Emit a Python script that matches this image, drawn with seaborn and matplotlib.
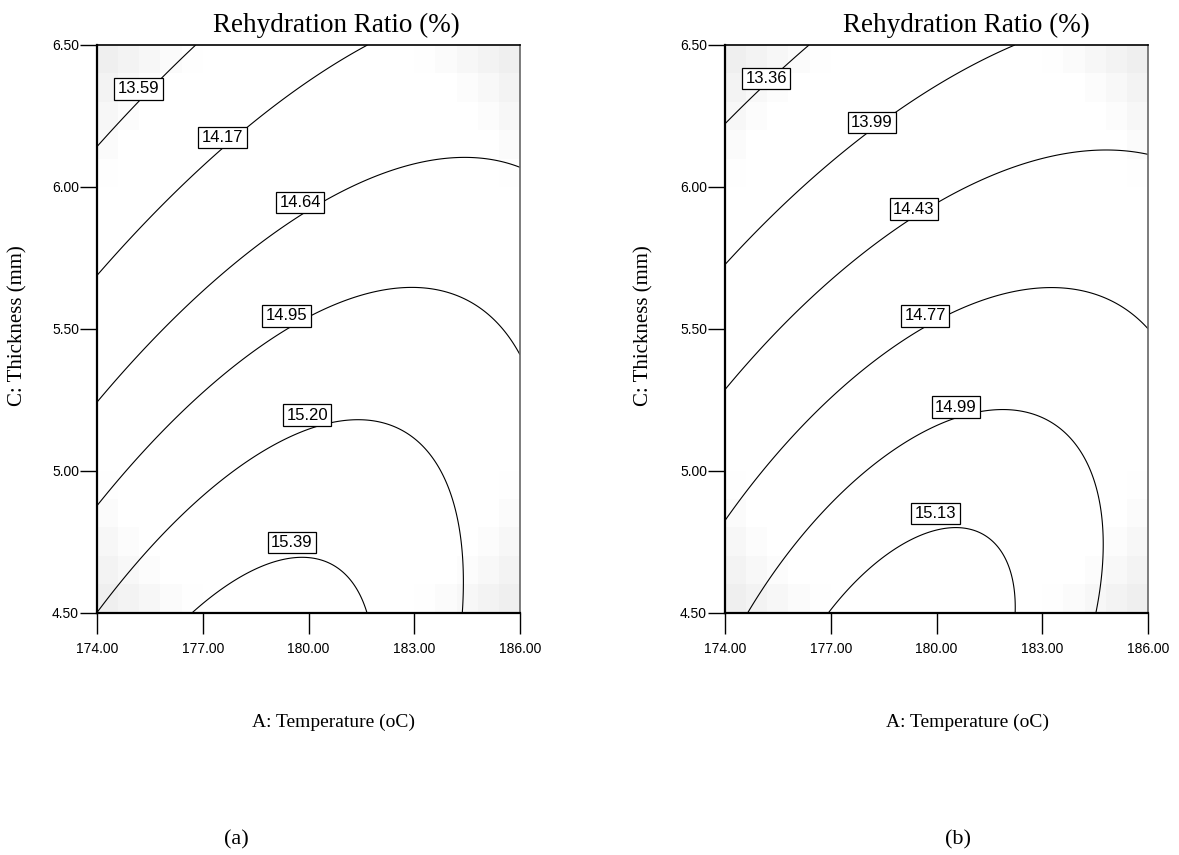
import numpy as np
import matplotlib
matplotlib.use("Agg")
import matplotlib.pyplot as plt
import seaborn as sns

# Factor ranges and ticks (actual units)
temp_range = [174.0, 186.0]
thick_range = [4.50, 6.50]
temp_ticks = [174.0, 177.0, 180.0, 183.0, 186.0]
thick_ticks = [4.50, 5.00, 5.50, 6.00, 6.50]

# Quadratic response-surface coefficients in coded units:
# [intercept, A, C, AC, A^2, C^2]
coef_a = [14.98, 0.27, -0.71, 0.36, -0.33, -0.25]
coef_b = [14.79, 0.27, -0.685, 0.31, -0.29, -0.29]

# Contour levels shown on each panel
levels_a = [13.59, 14.17, 14.64, 14.95, 15.20, 15.39]
levels_b = [13.36, 13.99, 14.43, 14.77, 14.99, 15.13]

# Where each contour label sits (temperature, thickness)
label_xy_a = [(175.18, 6.345), (177.56, 6.174), (179.76, 5.945),
              (179.38, 5.546), (179.96, 5.196), (179.53, 4.747)]
label_xy_b = [(175.17, 6.382), (178.17, 6.227), (179.36, 5.922),
              (179.68, 5.545), (180.55, 5.224), (179.97, 4.849)]

sns.set_theme(style="white")
plt.rcParams["font.family"] = ["Liberation Sans", "DejaVu Sans"]
plt.rcParams["text.color"] = "black"
plt.rcParams["xtick.color"] = "black"
plt.rcParams["ytick.color"] = "black"

SERIF = ["Liberation Serif", "DejaVu Serif"]
W, H = 1179, 855


def coded(t, th):
    a = (t - (temp_range[0] + temp_range[1]) / 2) / ((temp_range[1] - temp_range[0]) / 2)
    c = (th - (thick_range[0] + thick_range[1]) / 2) / ((thick_range[1] - thick_range[0]) / 2)
    return a, c


def response(coef, t, th):
    a, c = coded(t, th)
    b0, b1, b3, b13, b11, b33 = coef
    return b0 + b1 * a + b3 * c + b13 * a * c + b11 * a ** 2 + b33 * c ** 2


def panel(ax, coef, levels, label_xy):
    # faint blocky shading toward the corners of the design space
    te = np.linspace(*temp_range, 21)
    he = np.linspace(*thick_range, 21)
    tc = (te[:-1] + te[1:]) / 2
    hc = (he[:-1] + he[1:]) / 2
    TC, HC = np.meshgrid(tc, hc)
    ac, cc = coded(TC, HC)
    s = np.clip((ac ** 2 + cc ** 2 - 1.15) / 0.85, 0, 1)
    ax.pcolormesh(te, he, 1 - 0.085 * s, cmap="gray", vmin=0, vmax=1,
                  shading="flat", zorder=0)

    t = np.linspace(*temp_range, 400)
    h = np.linspace(*thick_range, 400)
    T, Hh = np.meshgrid(t, h)
    Z = response(coef, T, Hh)
    ax.contour(T, Hh, Z, levels=levels, colors="black", linewidths=0.8,
               zorder=2)

    for lvl, (x, y) in zip(levels, label_xy):
        ax.text(x, y, f"{lvl:.2f}", ha="center", va="center", fontsize=12,
                color="black", zorder=5,
                bbox=dict(boxstyle="square,pad=0.2", fc="white",
                          ec="black", lw=0.9))

    ax.set_xlim(*temp_range)
    ax.set_ylim(*thick_range)
    ax.set_xticks(temp_ticks)
    ax.set_yticks(thick_ticks)
    ax.set_xticklabels([f"{v:.2f}" for v in temp_ticks])
    ax.set_yticklabels([f"{v:.2f}" for v in thick_ticks])
    ax.tick_params(axis="x", direction="out", length=15, width=1.0, pad=6,
                   labelsize=10, colors="black", bottom=True)
    ax.tick_params(axis="y", direction="out", length=12, width=1.0, pad=1,
                   labelsize=10, colors="black", left=True)
    for side in ["left", "bottom"]:
        ax.spines[side].set_linewidth(1.6)
        ax.spines[side].set_color("black")
    ax.spines["top"].set_linewidth(1.2)
    ax.spines["top"].set_color("black")
    ax.spines["right"].set_linewidth(1.2)
    ax.spines["right"].set_color("#666666")
    ax.grid(False)


fig = plt.figure(figsize=(W / 100, H / 100), dpi=100)
fig.patch.set_facecolor("white")

ax_w = 423 / W
ax_h = 567.5 / H
ax_y = 1 - 612.5 / H
ax1 = fig.add_axes([97 / W, ax_y, ax_w, ax_h])
ax2 = fig.add_axes([725 / W, ax_y, ax_w, ax_h])

panel(ax1, coef_a, levels_a, label_xy_a)
panel(ax2, coef_b, levels_b, label_xy_b)

for cx_title, cx_x, cx_y, tag_x, tag in [(336, 334, 18, 236, "(a)"),
                                         (966, 968, 644, 958, "(b)")]:
    fig.text(cx_title / W, 1 - 25 / H, "Rehydration Ratio (%)",
             ha="center", va="center", fontsize=19.5, family=SERIF)
    fig.text(cx_x / W, 1 - 722 / H, "A: Temperature (oC)",
             ha="center", va="center", fontsize=14, family=SERIF)
    fig.text(cx_y / W, 1 - 326 / H, "C: Thickness (mm)", rotation=90,
             ha="center", va="center", fontsize=15, family=SERIF)
    fig.text(tag_x / W, 1 - 840 / H, tag, ha="center", va="center",
             fontsize=16, family=SERIF)

fig.savefig("out.png", dpi=100, facecolor="white")
